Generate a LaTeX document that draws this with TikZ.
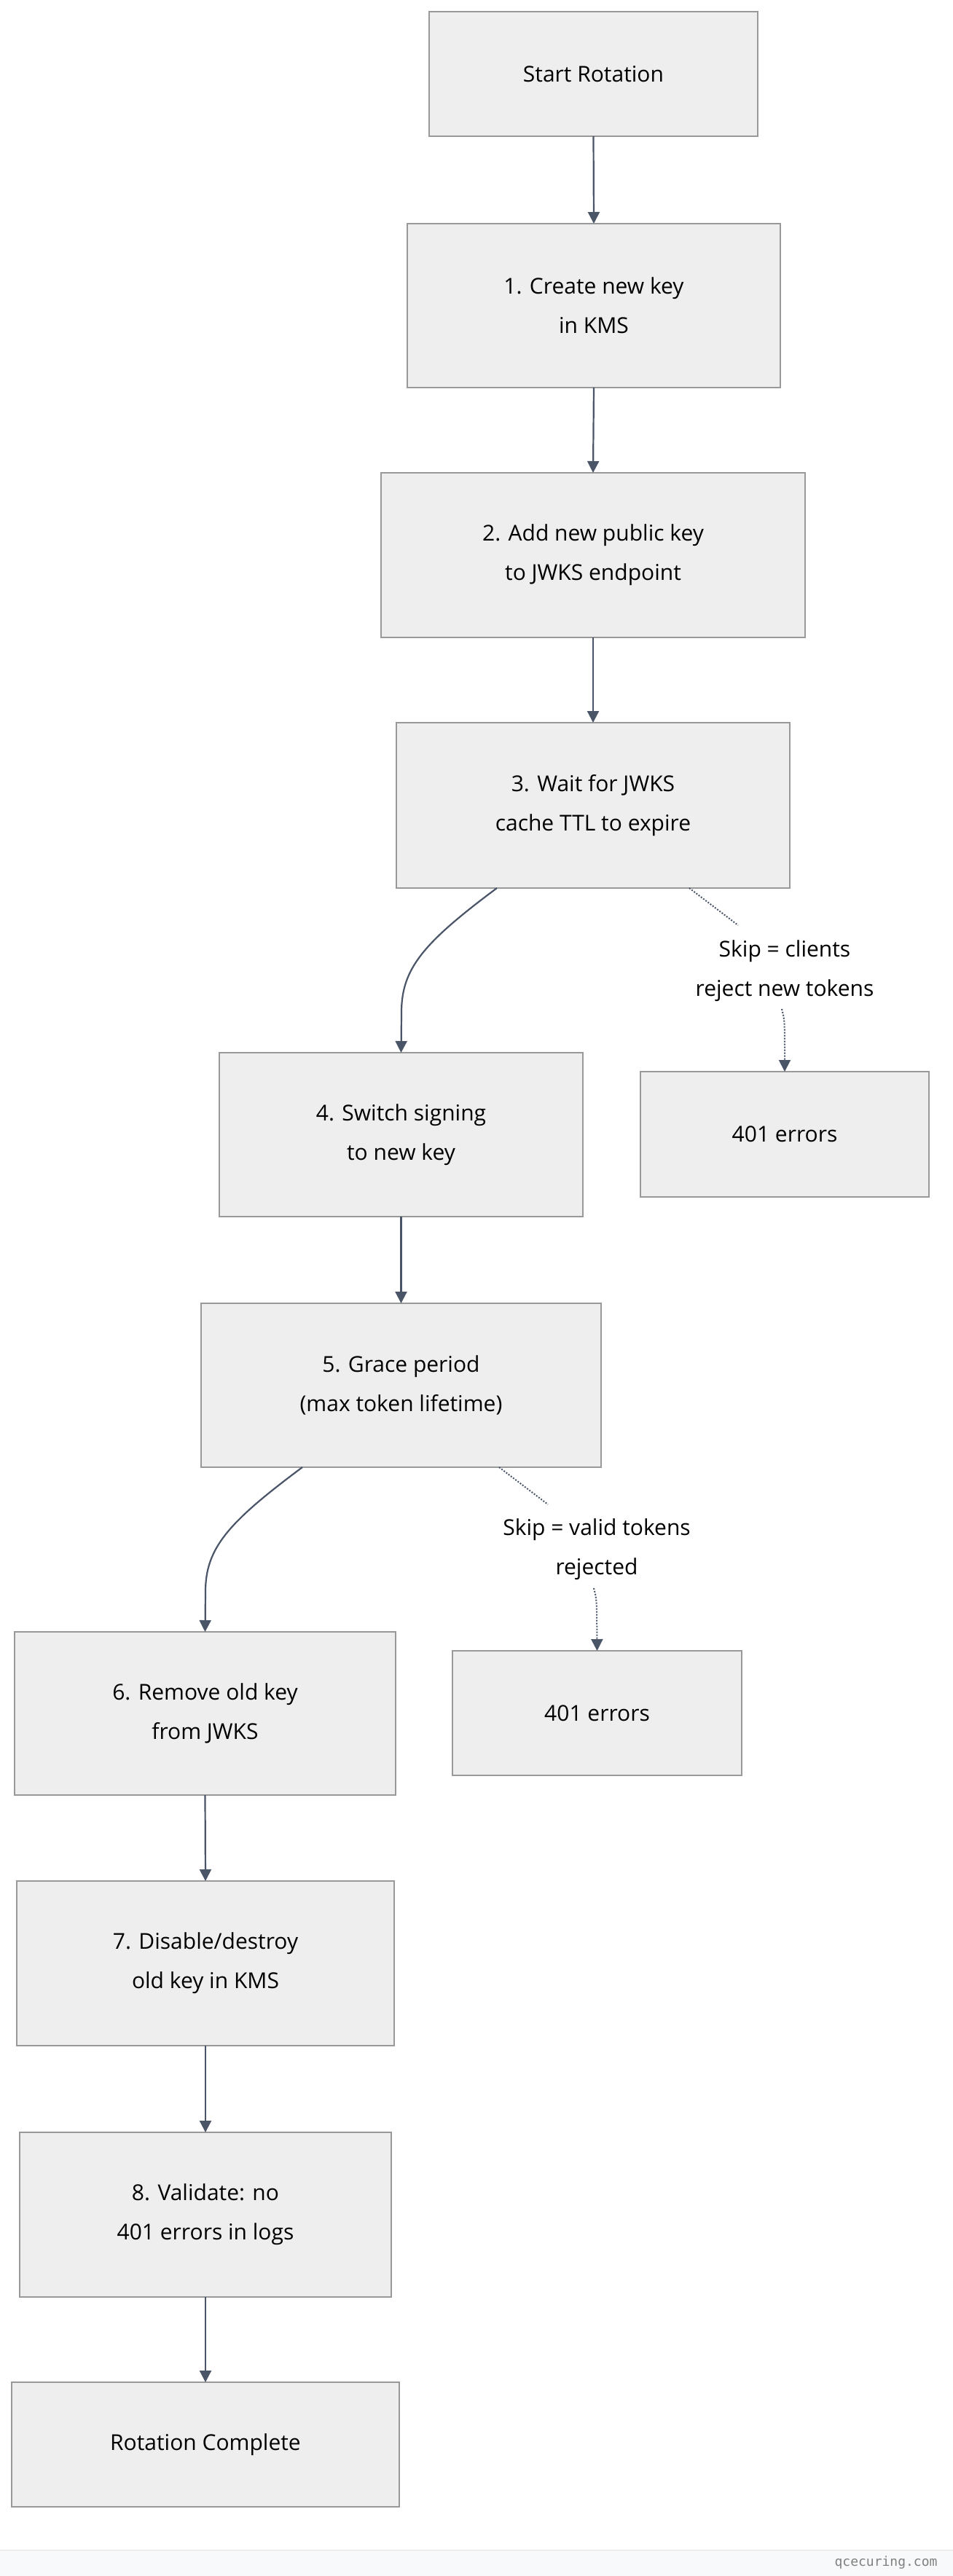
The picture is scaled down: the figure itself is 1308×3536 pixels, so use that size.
\documentclass[tikz,border=0pt]{standalone}
\usepackage{fontspec}
\setmainfont{Open Sans}
\setmonofont{DejaVu Sans Mono}
\usetikzlibrary{arrows.meta}
\definecolor{boxf}{HTML}{EEEEEE}
\definecolor{boxd}{HTML}{999999}
\definecolor{edge}{HTML}{4A5568}
\definecolor{foot}{HTML}{F8F9FA}
\begin{document}
\begin{tikzpicture}[x=1pt,y=-1pt,
  box/.style={draw=boxd,fill=boxf,line width=2pt,align=center,font=\fontsize{30}{54}\selectfont},
  arr/.style={draw=edge,line width=2.2pt,-{Triangle[length=16pt,width=16pt]}},
  dot/.style={draw=edge,line width=2pt,dotted,-{Triangle[length=16pt,width=16pt]}},
  lab/.style={align=center,font=\fontsize{30}{54}\selectfont}]
\useasboundingbox (0,0) rectangle (1308,3536);
\fill[white] (0,0) rectangle (1308,3500);
\fill[foot] (0,3500) rectangle (1308,3536);
\draw[boxd!30,line width=1pt] (0,3500) -- (1308,3500);
\node[anchor=east,text=gray,font=\ttfamily\fontsize{18}{20}\selectfont] (ft) at (1290,3518) {qcecuring.com};
\newcommand{\bx}[6]{\path[box] (#2,#3) rectangle (#4,#5); \node[lab] (#1) at ({(#2+#4)/2},{(#3+#5)/2}) {#6};
  \coordinate (#1n) at ({(#2+#4)/2},#3); \coordinate (#1s) at ({(#2+#4)/2},#5);}
\bx{s}{589}{16}{1040}{187}{Start Rotation}
\bx{a}{559}{307}{1071}{532}{1. Create new key\\in KMS}
\bx{b}{523}{649}{1105}{875}{2. Add new public key\\to JWKS endpoint}
\bx{c}{544}{992}{1084}{1219}{3. Wait for JWKS\\cache TTL to expire}
\bx{d}{301}{1445}{800}{1670}{4. Switch signing\\to new key}
\bx{e}{879}{1471}{1275}{1643}{401 errors}
\bx{f}{276}{1789}{825}{2014}{5. Grace period\\(max token lifetime)}
\bx{g}{20}{2240}{543}{2464}{6. Remove old key\\from JWKS}
\bx{h}{621}{2266}{1018}{2437}{401 errors}
\bx{i}{23}{2582}{541}{2808}{7. Disable/destroy\\old key in KMS}
\bx{j}{27}{2927}{537}{3153}{8. Validate: no\\401 errors in logs}
\bx{k}{16}{3270}{548}{3441}{Rotation Complete}
\draw[arr] (ss) -- (an);
\draw[arr] (as) -- (bn);
\draw[arr] (bs) -- (cn);
\coordinate (c1) at (682,1219);
\draw[arr] (c1) .. controls (580,1295) and (551,1330) .. (551,1390) -- (dn);
\node[lab] (l1) at (1077,1333) {Skip = clients\\reject new tokens};
\coordinate (c2) at (946,1219);
\draw[edge,line width=2pt,dotted] (c2) -- (1013,1270);
\draw[dot] (1073,1385) .. controls (1077,1400) .. (en);
\draw[arr] (ds) -- (fn);
\coordinate (f1) at (415,2014);
\draw[arr] (f1) .. controls (313,2090) and (282,2125) .. (282,2185) -- (gn);
\node[lab] (l2) at (819,2127) {Skip = valid tokens\\rejected};
\coordinate (f2) at (685,2014);
\draw[edge,line width=2pt,dotted] (f2) -- (752,2065);
\draw[dot] (815,2180) .. controls (819,2195) .. (hn);
\draw[arr] (gs) -- (in);
\draw[arr] (is) -- (jn);
\draw[arr] (js) -- (kn);
\end{tikzpicture}
\end{document}
